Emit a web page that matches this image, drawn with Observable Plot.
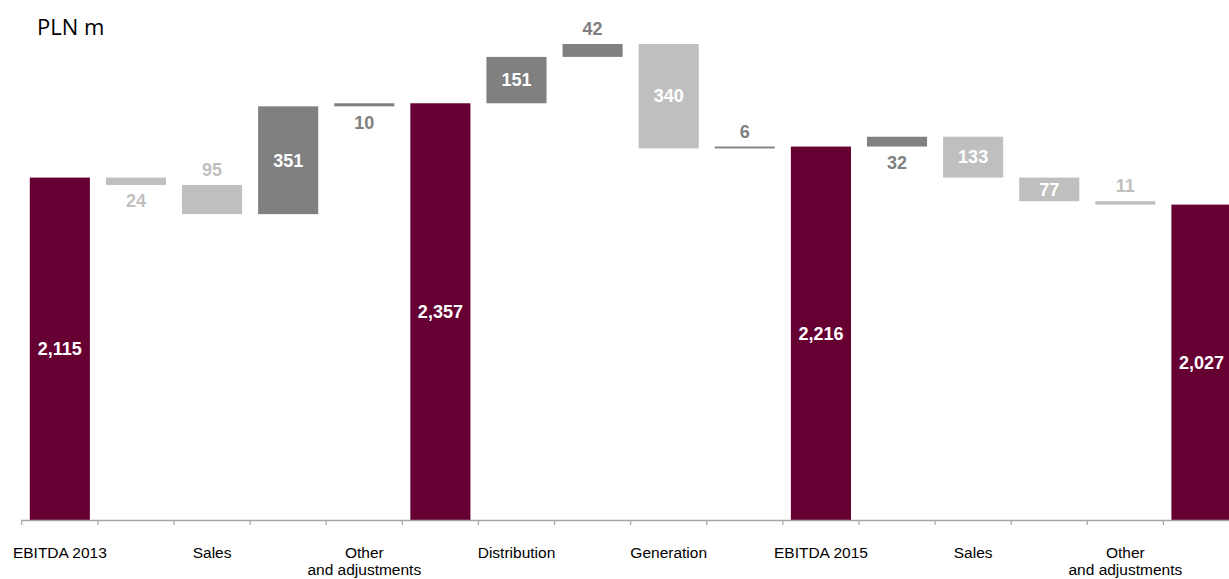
<!DOCTYPE html>
<html>
<head>
<meta charset="utf-8">
<script src="https://cdn.jsdelivr.net/npm/d3@7"></script>
<script src="https://cdn.jsdelivr.net/npm/@observablehq/plot@0.6"></script>
<style>
  html, body { margin: 0; padding: 0; background: #fff; }
  #wrap { position: relative; width: 1229px; height: 579px; overflow: hidden; }
  #title { position: absolute; left: 37px; top: 15px; font-family: "Open Sans", sans-serif; font-size: 22px; line-height: 22px; color: #000; }
</style>
</head>
<body>
<div id="wrap"><div id="title">PLN m</div></div>
<script>
// Waterfall steps (PLN m)
const categories = ["EBITDA 2013", "", "Sales", "", "Other\nand adjustments", "", "Distribution", "", "Generation", "", "EBITDA 2015", "", "Sales", "", "Other\nand adjustments", ""];
const values = [2115, -24, -95, 351, 10, 2357, 151, 42, -340, 6, 2216, 32, -133, -77, -11, 2027];
const kinds = ["total", "delta", "delta", "delta", "delta", "total", "delta", "delta", "delta", "delta", "total", "delta", "delta", "delta", "delta", "total"];
const labelPlacement = ["inside", "below", "above", "inside", "below", "inside", "inside", "above", "inside", "above", "inside", "below", "inside", "inside", "above", "inside"];
const axisBase = 1000;

const colors = {total: "#660033", up: "#808080", down: "#bfbfbf"};

let running = 0;
const rows = values.map((v, i) => {
  let y1, y2, type;
  if (kinds[i] === "total") {
    y1 = axisBase; y2 = v; running = v; type = "total";
  } else {
    y1 = running; y2 = running + v; running = y2; type = v >= 0 ? "up" : "down";
  }
  return {i, label: categories[i], value: v, y1, y2, lo: Math.min(y1, y2), hi: Math.max(y1, y2), mid: (y1 + y2) / 2, type, place: labelPlacement[i], text: d3.format(",")(Math.abs(v))};
});

const font = "'Liberation Sans', Arial, sans-serif";

const chart = Plot.plot({
  width: 1229,
  height: 579,
  marginLeft: 21,
  marginRight: 0,
  marginTop: 44,
  marginBottom: 59,
  style: {fontFamily: font, background: "transparent", overflow: "visible"},
  x: {domain: [0, 16], range: [21.3, 1239], axis: null, label: null},
  y: {domain: [axisBase, 2550], axis: null, label: null},
  marks: [
    Plot.rectY(rows, {x1: "i", x2: d => d.i + 1, y1: "y1", y2: "y2", fill: d => colors[d.type], insetLeft: 8.5, insetRight: 7.5}),
    Plot.text(rows.filter(d => d.place === "inside"), {x: d => d.i + 0.5, y: "mid", text: "text", fill: "white", fontWeight: "bold", fontSize: 18}),
    Plot.text(rows.filter(d => d.place === "above"), {x: d => d.i + 0.5, y: "hi", text: "text", fill: d => colors[d.type], fontWeight: "bold", fontSize: 18, dy: -15}),
    Plot.text(rows.filter(d => d.place === "below"), {x: d => d.i + 0.5, y: "lo", text: "text", fill: d => colors[d.type], fontWeight: "bold", fontSize: 18, dy: 16}),
    Plot.axisX({ticks: d3.range(0, 17), tickSize: 5, tickFormat: () => "", label: null, stroke: "#a6a6a6", strokeWidth: 1.2}),
    Plot.ruleY([axisBase], {stroke: "#a6a6a6", strokeWidth: 1.5}),
    Plot.axisX({ticks: rows.filter(d => d.label).map(d => d.i + 0.5), tickSize: 0, tickPadding: 26, label: null, tickFormat: x => categories[Math.floor(x)], fontSize: 15.5, fill: "#000", lineHeight: 1.08})
  ]
});
document.getElementById("wrap").prepend(chart);
</script>
</body>
</html>
